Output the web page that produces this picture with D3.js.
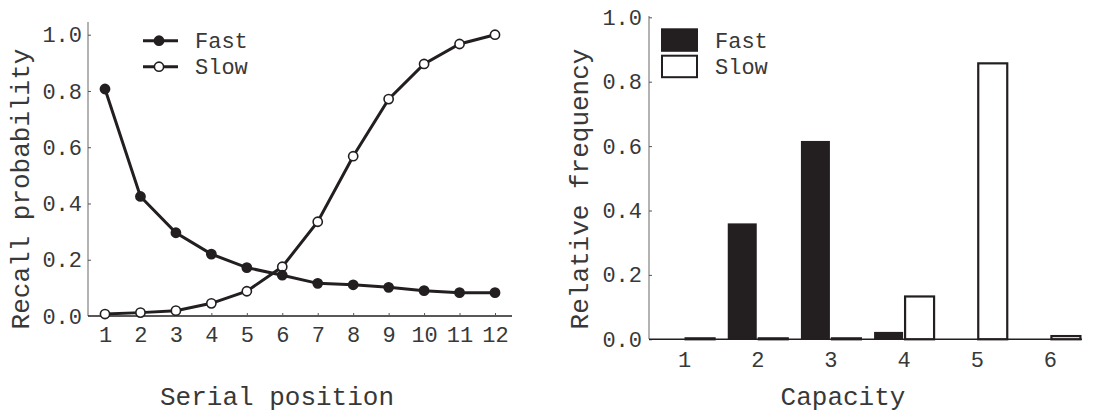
<!DOCTYPE html>
<html>
<head>
<meta charset="UTF-8">
<title>Recall and capacity</title>
<script src="https://d3js.org/d3.v7.min.js"></script>
<style>
  body { margin: 0; background: #fff; }
  text { font-family: "Liberation Mono", "DejaVu Sans Mono", monospace; fill: #383838; }
</style>
</head>
<body>
<div id="chart"></div>
<script>
// left panel: serial position curves
const positions = [1, 2, 3, 4, 5, 6, 7, 8, 9, 10, 11, 12];
const fastRecall = [0.807, 0.425, 0.296, 0.220, 0.172, 0.145, 0.116, 0.111, 0.102, 0.090, 0.083, 0.083];
const slowRecall = [0.007, 0.012, 0.019, 0.045, 0.088, 0.175, 0.335, 0.568, 0.771, 0.896, 0.967, 1.000];
const probTicks = [0, 0.2, 0.4, 0.6, 0.8, 1.0];

// right panel: capacity histogram
const capacities = [1, 2, 3, 4, 5, 6];
const fastFreq = [0, 0.360, 0.616, 0.023, 0, 0];
const slowFreq = [0.003, 0.003, 0.003, 0.133, 0.857, 0.010];
const series = ["Fast", "Slow"];

const ink = "#231f20";
const svg = d3.select("#chart").append("svg")
  .attr("width", 1104).attr("height", 414);

function styleAxis(g) {
  g.select(".domain").remove();
  g.selectAll(".tick line").attr("stroke", "#555").attr("stroke-width", 1);
  g.selectAll(".tick text").style("font-size", "22px").attr("fill", "#383838");
}

// ---------- left ----------
const xL = d3.scaleLinear().domain([1, 12]).range([105, 495]);
const yL = d3.scaleLinear().domain([0, 1]).range([316, 34.7]);

const left = svg.append("g");
left.append("line").attr("x1", 88).attr("x2", 88).attr("y1", 22).attr("y2", 316)
  .attr("stroke", "#666").attr("stroke-width", 1);
left.append("line").attr("x1", 88).attr("x2", 512).attr("y1", 316).attr("y2", 316)
  .attr("stroke", ink).attr("stroke-width", 1.6);

left.append("g").attr("transform", "translate(88,0)")
  .call(d3.axisLeft(yL).tickValues(probTicks).tickFormat(d3.format(".1f"))
    .tickSizeInner(-3).tickSizeOuter(0).tickPadding(6))
  .call(styleAxis);
left.append("g").attr("transform", "translate(0,316)")
  .call(d3.axisBottom(xL).tickValues(positions).tickFormat(d3.format("d"))
    .tickSizeInner(-3).tickSizeOuter(0).tickPadding(10))
  .call(styleAxis);

const line = d3.line().x(d => xL(d[0])).y(d => yL(d[1]));
const fastPts = positions.map((p, i) => [p, fastRecall[i]]);
const slowPts = positions.map((p, i) => [p, slowRecall[i]]);

[slowPts, fastPts].forEach(pts => {
  left.append("path").datum(pts).attr("d", line)
    .attr("fill", "none").attr("stroke", ink).attr("stroke-width", 3);
});
[[slowPts, "#fff"], [fastPts, ink]].forEach(([pts, fill]) => {
  left.selectAll(null).data(pts).enter().append("circle")
    .attr("cx", d => xL(d[0])).attr("cy", d => yL(d[1])).attr("r", 4.6)
    .attr("fill", fill).attr("stroke", ink).attr("stroke-width", 1.6);
});

// legend
const legL = [["Fast", ink, 40.7], ["Slow", "#fff", 66.7]];
legL.forEach(([name, fill, y]) => {
  left.append("line").attr("x1", 143).attr("x2", 178).attr("y1", y).attr("y2", y)
    .attr("stroke", ink).attr("stroke-width", 3);
  left.append("circle").attr("cx", 159).attr("cy", y).attr("r", 4.6)
    .attr("fill", fill).attr("stroke", ink).attr("stroke-width", 1.6);
  left.append("text").attr("x", 195).attr("y", y).attr("dy", "0.35em")
    .style("font-size", "22px").text(name);
});

left.append("text").attr("x", 277).attr("y", 396).attr("text-anchor", "middle")
  .attr("dy", "0.35em").style("font-size", "26px").text("Serial position");
left.append("text").attr("transform", "translate(20,189)rotate(-90)")
  .attr("text-anchor", "middle").attr("dy", "0.35em")
  .style("font-size", "26px").text("Recall probability");

// ---------- right ----------
const x0 = d3.scaleBand().domain(capacities).range([648, 1087])
  .paddingInner(0.18).paddingOuter(0.09);
const x1 = d3.scaleBand().domain(series).range([0, x0.bandwidth()]);
const yR = d3.scaleLinear().domain([0, 1]).range([339.3, 17.3]);

const right = svg.append("g");
right.append("line").attr("x1", 649).attr("x2", 649).attr("y1", 16).attr("y2", 339)
  .attr("stroke", "#666").attr("stroke-width", 1);

right.append("g").attr("transform", "translate(649,0)")
  .call(d3.axisLeft(yR).tickValues(probTicks).tickFormat(d3.format(".1f"))
    .tickSizeInner(-3).tickSizeOuter(0).tickPadding(7))
  .call(styleAxis);
right.append("g").attr("transform", "translate(0,339.3)")
  .call(d3.axisBottom(x0).tickSize(0).tickPadding(12))
  .call(styleAxis);

const rows = capacities.map((c, i) => ({ c, Fast: fastFreq[i], Slow: slowFreq[i] }));
const groups = right.selectAll("g.grp").data(rows).enter().append("g")
  .attr("class", "grp").attr("transform", d => "translate(" + x0(d.c) + ",0)");
groups.selectAll("rect").data(d => series.map(s => ({ s, v: d[s] })).filter(e => e.v > 0))
  .enter().append("rect")
  .attr("x", d => x1(d.s) + (d.s === "Slow" ? 1 : 0))
  .attr("y", d => yR(d.v))
  .attr("width", d => x1.bandwidth() - 1)
  .attr("height", d => yR(0) - yR(d.v))
  .attr("fill", d => d.s === "Fast" ? ink : "#fff")
  .attr("stroke", ink).attr("stroke-width", d => d.s === "Fast" ? 0 : 2.2);

right.append("line").attr("x1", 649).attr("x2", 1082).attr("y1", 339.3).attr("y2", 339.3)
  .attr("stroke", ink).attr("stroke-width", 1.6);

const legR = [["Fast", ink, 29.3], ["Slow", "#fff", 55.7]];
legR.forEach(([name, fill, y]) => {
  right.append("rect").attr("x", 662).attr("y", y).attr("width", 35).attr("height", 21.5)
    .attr("fill", fill).attr("stroke", ink).attr("stroke-width", 2);
  right.append("text").attr("x", 715).attr("y", y + 11).attr("dy", "0.35em")
    .style("font-size", "22px").text(name);
});

right.append("text").attr("x", 843).attr("y", 396).attr("text-anchor", "middle")
  .attr("dy", "0.35em").style("font-size", "26px").text("Capacity");
right.append("text").attr("transform", "translate(579,189)rotate(-90)")
  .attr("text-anchor", "middle").attr("dy", "0.35em")
  .style("font-size", "26px").text("Relative frequency");
</script>
</body>
</html>
